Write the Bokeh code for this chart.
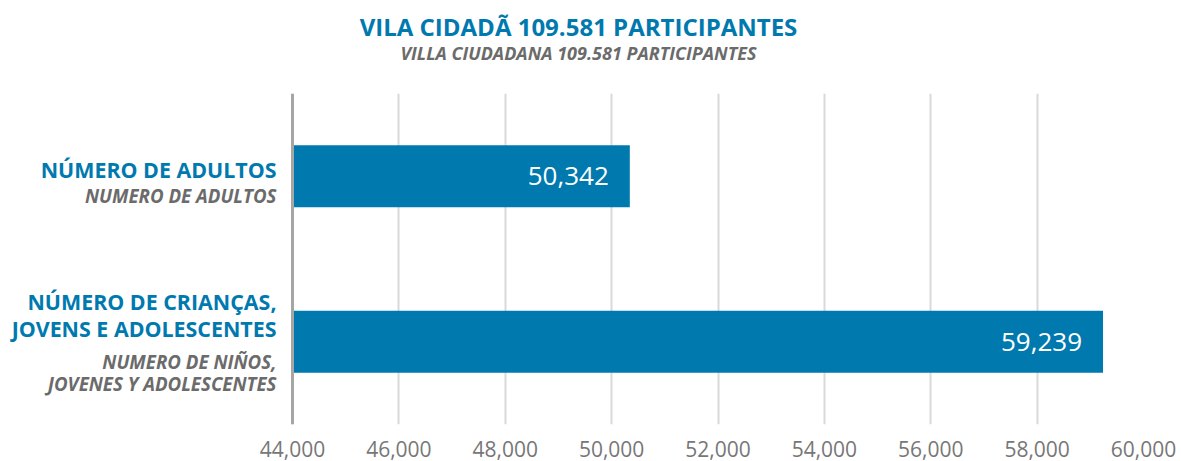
from bokeh.plotting import figure
from bokeh.models import (Range1d, FactorRange, FixedTicker, NumeralTickFormatter,
                          ColumnDataSource, Span)
from bokeh.layouts import column
from bokeh.embed import file_html
from bokeh.resources import INLINE
from bokeh.core.properties import value

# ---- data ----
title_pt = "VILA CIDADÃ 109.581 PARTICIPANTES"
title_es = "VILLA CIUDADANA 109.581 PARTICIPANTES"
categories_pt = ["NÚMERO DE ADULTOS", "NÚMERO DE CRIANÇAS,\nJOVENS E ADOLESCENTES"]
categories_es = ["NUMERO DE ADULTOS", "NUMERO DE NIÑOS,\nJOVENES Y ADOLESCENTES"]
participants = [50342, 59239]
x_ticks = [44000, 46000, 48000, 50000, 52000, 54000, 56000, 58000, 60000]

# ---- styles / layout ----
BLUE = "#0079AF"
GREY = "#6b6b6b"
TICK_GREY = "#777777"
FONT = "Open Sans"

TOTAL_W = 1181
TITLE_H = 93
ROW_H = 461 - TITLE_H
BOTTOM_BORDER = 37
RIGHT_BORDER = 38
AXIS_X = 292                      # pixel where the value axis starts
FRAME_W = TOTAL_W - RIGHT_BORDER  # frame spans from 0 to here

x_min, x_max = x_ticks[0], x_ticks[-1]
x_start = x_min - AXIS_X * (x_max - x_min) / (FRAME_W - AXIS_X)

factors = list(reversed(categories_pt))  # bottom to top

src = ColumnDataSource(dict(
    cat=categories_pt,
    cat_es=categories_es,
    val=participants,
    base=[x_min] * len(participants),
    lbl=[f"{v:,}" for v in participants],
    off_pt=[-7, -27],
    off_es=[19, 31],
))

# ---- main chart ----
p = figure(width=TOTAL_W, height=ROW_H,
           x_range=Range1d(x_start, x_max),
           y_range=FactorRange(factors=factors),
           y_axis_location=None,
           output_backend="svg", toolbar_location=None,
           min_border_left=0, min_border_right=RIGHT_BORDER,
           min_border_top=0, min_border_bottom=BOTTOM_BORDER)
p.outline_line_color = None
p.background_fill_color = "white"
p.border_fill_color = "white"

p.xgrid.ticker = FixedTicker(ticks=x_ticks)
p.xgrid.grid_line_color = "#d9d9d9"
p.xgrid.grid_line_width = 2
p.ygrid.grid_line_color = None

p.hbar(y="cat", left="base", right="val", height=0.375, source=src,
       fill_color=BLUE, line_color=None)
p.text(x="val", y="cat", text="lbl", source=src, x_offset=-21,
       text_align="right", text_baseline="middle", text_color="white",
       text_font=value(FONT), text_font_size="26px")

p.xaxis.ticker = FixedTicker(ticks=x_ticks)
p.xaxis.formatter = NumeralTickFormatter(format="0,0")
p.xaxis.axis_line_color = None
p.xaxis.major_tick_line_color = None
p.xaxis.minor_tick_line_color = None
p.xaxis.major_label_text_font = FONT
p.xaxis.major_label_text_font_size = "21px"
p.xaxis.major_label_text_color = TICK_GREY
p.xaxis.major_label_standoff = 10

p.add_layout(Span(location=x_min, dimension="height",
                  line_color="#a6a6a6", line_width=3))

# ---- category labels ----
p.text(x="base", y="cat", text="cat", source=src, x_offset=-16, y_offset="off_pt",
       text_align="right", text_baseline="middle", text_color=BLUE,
       text_font=value(FONT), text_font_style="bold", text_font_size="21.4px",
       text_line_height=0.933)
p.text(x="base", y="cat", text="cat_es", source=src, x_offset=-16, y_offset="off_es",
       text_align="right", text_baseline="middle", text_color=GREY,
       text_font=value(FONT), text_font_style="bold italic", text_font_size="18.7px",
       text_line_height=0.866)

# ---- titles ----
tf = figure(width=TOTAL_W, height=TITLE_H, x_range=Range1d(0, FRAME_W), y_range=Range1d(TITLE_H, 0),
            output_backend="svg", toolbar_location=None,
            x_axis_type=None, y_axis_type=None,
            min_border_left=0, min_border_right=RIGHT_BORDER,
            min_border_top=0, min_border_bottom=0)
tf.outline_line_color = None
tf.grid.visible = False
tf.text(x=[578], y=[25.7], text=[title_pt], text_align="center", text_baseline="middle",
        text_color=BLUE, text_font=value(FONT), text_font_style="bold", text_font_size="24px")
tf.text(x=[578], y=[52.8], text=[title_es], text_align="center", text_baseline="middle",
        text_color=GREY, text_font=value(FONT), text_font_style="bold italic", text_font_size="18px")

layout = column(tf, p)
open("out.html", "w").write(file_html(layout, INLINE))
